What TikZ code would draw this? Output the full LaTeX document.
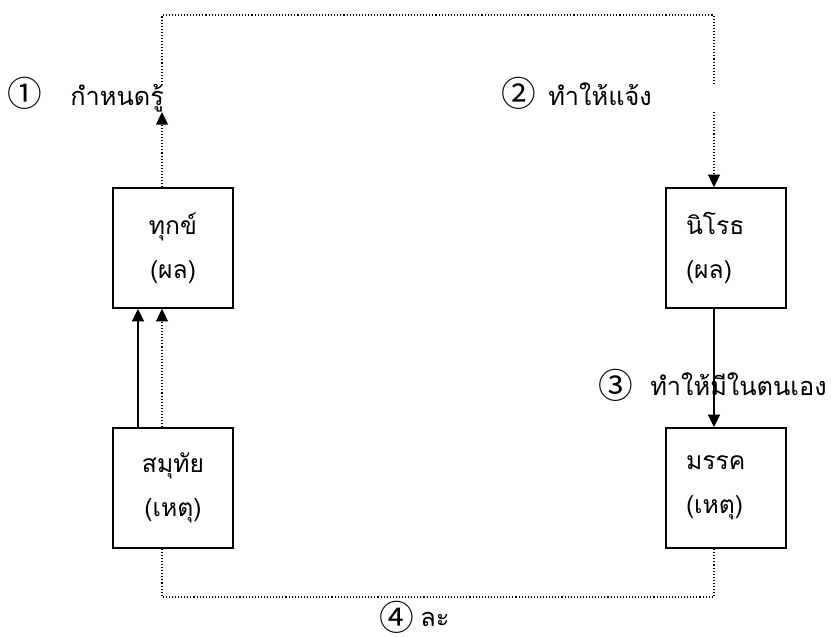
\documentclass[tikz,border=0pt]{standalone}
\usepackage{fontspec}
\setmainfont[Script=Thai]{Loma}
\newfontfamily\circfont{Noto Sans CJK JP}
\usetikzlibrary{arrows.meta}

\tikzset{
  box/.style={draw, line width=1.1pt, minimum width=90pt, minimum height=90pt,
    inner sep=0pt, align=center, font=\fontsize{18.5}{33}\selectfont},
  rbox/.style={box, align=left, text width=60pt, inner xsep=15pt},
  dots/.style={line width=0.8pt, dash pattern=on 0.8pt off 1.5pt},
  tip/.style={-{Triangle[length=9.5pt,width=9pt]}},
  num/.style={inner sep=0pt, font=\circfont\fontsize{26}{26}\selectfont},
  lbl/.style={inner sep=0pt, anchor=base west, font=\fontsize{19}{22}\selectfont},
}

\begin{document}
\begin{tikzpicture}[x=0.75pt, y=-0.75pt]
	\useasboundingbox (0,0) rectangle (835,636);
	% the four truths
	\node[box] (dukkha) at (173,248) {ทุกข์\\(ผล)};
	\node[box] (samudaya) at (173,488) {สมุทัย\\(เหตุ)};
	\node[rbox] (nirodha) at (726,248) {นิโรธ\\(ผล)};
	\node[rbox] (magga) at (726,488) {มรรค\\(เหตุ)};
	% corners of the dotted routes
	\coordinate (tl) at (162,15);
	\coordinate (tr) at (714,15);
	\coordinate (lgap) at (162,85);
	\coordinate (rgap) at (714,85);
	\coordinate (ltip) at (162,112);
	\coordinate (rtail) at (714,112);
	\coordinate (bl) at (162,597);
	\coordinate (br) at (714,597);
	\draw[dots] (lgap) -- (tl) -- (tr) -- (rgap);
	\draw[dots, tip] (dukkha.north -| ltip) -- (ltip);
	\draw[dots, tip] (rtail) -- (nirodha.north -| rtail);
	\draw[line width=1.1pt, tip] ([xshift=-26.25pt]samudaya.north) -- ([xshift=-26.25pt]dukkha.south);
	\draw[dots, tip] (samudaya.north -| ltip) -- (dukkha.south -| ltip);
	\draw[line width=1.1pt, tip] (nirodha.south -| rtail) -- (magga.north -| rtail);
	\draw[dots] (samudaya.south -| bl) -- (bl) -- (br) -- (magga.south -| br);
	% labels
	\node[num] (n1) at (25,93) {①};
	\node[lbl] (t1) at (70,105) {กำหนดรู้};
	\node[num] (n2) at (519,93) {②};
	\node[lbl] (t2) at (548,105) {ทำให้แจ้ง};
	\node[num] (n3) at (616,385) {③};
	\node[lbl] (t3) at (650,395) {ทำให้มีในตนเอง};
	\node[num] (n4) at (397,617) {④};
	\node[lbl] (t4) at (420,626) {ละ};
\end{tikzpicture}
\end{document}
